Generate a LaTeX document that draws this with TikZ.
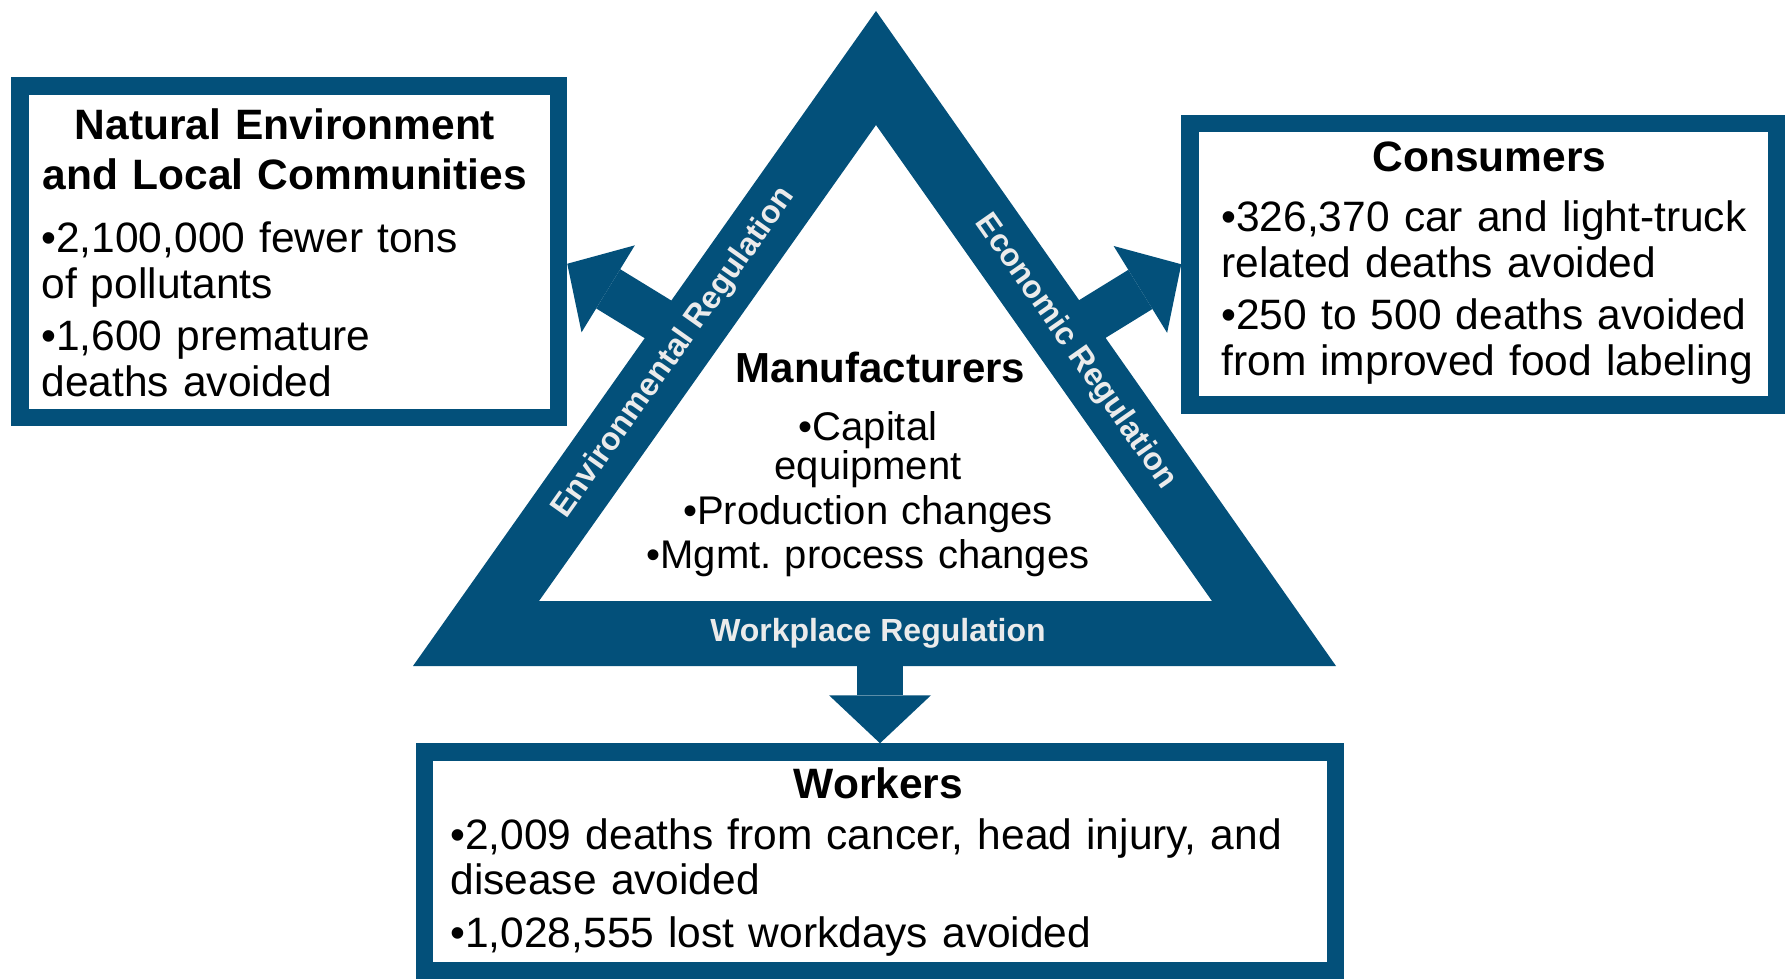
\documentclass[tikz,border=0pt]{standalone}
\usepackage{fontspec}
\setmainfont{Liberation Sans}
\usetikzlibrary{arrows.meta,calc}
\definecolor{regblue}{HTML}{03507A}
\frenchspacing

\begin{document}
\begin{tikzpicture}
		[
			x = 0.5pt, y = -0.5pt,
			boxframe/.style = {draw = regblue, line width = 8.75pt, inner sep = 0pt},
			boxtitle/.style = {anchor = base, align = center, inner sep = 0pt,
				font = \fontsize{21.25}{25}\selectfont\bfseries},
			boxbody/.style = {anchor = base west, align = left, inner sep = 0pt,
				font = \fontsize{21.25}{22.75}\selectfont},
			manubody/.style = {anchor = base, align = center, inner sep = 0pt, text width = 240pt,
				font = \fontsize{20}{18.5}\selectfont},
			reglabel/.style = {text = white!92!black, inner sep = 0pt,
				font = \fontsize{16}{18}\selectfont\bfseries},
			blockarrow/.style = {draw = regblue, line width = 23pt,
				-{Triangle[width = 51pt, length = 24pt, line width = 0pt]}}
		]
		\useasboundingbox (0,0) rectangle (1785,979);
		\fill[regblue, even odd rule] (876,11) -- (413,666) -- (1336,666) -- cycle
			(876,125) -- (539,601) -- (1212,601) -- cycle;
		\node[boxframe, minimum width = 269.25pt, minimum height = 165.75pt] (env) at (289.25,251.75) {};
		\node[boxframe, minimum width = 293.25pt, minimum height = 140.75pt] (cons) at (1483.25,264.25) {};
		\node[boxframe, minimum width = 455.5pt, minimum height = 109.5pt] (work) at (880,861.5) {};
		\coordinate (envfoot) at (695,342);
		\coordinate (consfoot) at (1055,342);
		\coordinate (workfoot) at (880,630);
		\draw[blockarrow] (envfoot) -- ($(env.east)+(0,12)$);
		\draw[blockarrow] (consfoot) -- (cons.west);
		\draw[blockarrow] (workfoot) -- (work.north);
		\node[reglabel, rotate = 54.7] (envreg) at (674,353) {Environmental Regulation};
		\node[reglabel, rotate = -55] (ecoreg) at (1075.5,352) {Economic Regulation};
		\node[reglabel] (workreg) at (878,633) {Workplace Regulation};
		\node[boxtitle, font = \fontsize{21}{25}\selectfont\bfseries] (manu) at (880.5,382) {Manufacturers};
		\node[manubody] (manulist) at (868,440) {•Capital\\ equipment\\[2.75pt] •Production changes\\[2.75pt] •Mgmt. process changes};
		\node[boxtitle, text width = 260pt] (envtitle) at (285,140) {Natural Environment\\ and Local Communities};
		\node[boxbody, text width = 250pt] (envlist) at (41,253) {•2,100,000 fewer tons\\ of pollutants\\[3.5pt] •1,600 premature\\ deaths avoided};
		\node[boxtitle] (constitle) at (1489.5,172) {Consumers};
		\node[boxbody, text width = 280pt] (conslist) at (1221,232) {•326,370 car and light-truck\\ related deaths avoided\\[3.5pt] •250 to 500 deaths avoided\\ from improved food labeling};
		\node[boxtitle] (worktitle) at (878.5,798) {Workers};
		\node[boxbody, text width = 430pt] (worklist) at (450,849) {•2,009 deaths from cancer, head injury, and\\ disease avoided\\[3.5pt] •1,028,555 lost workdays avoided};
\end{tikzpicture}
\end{document}
